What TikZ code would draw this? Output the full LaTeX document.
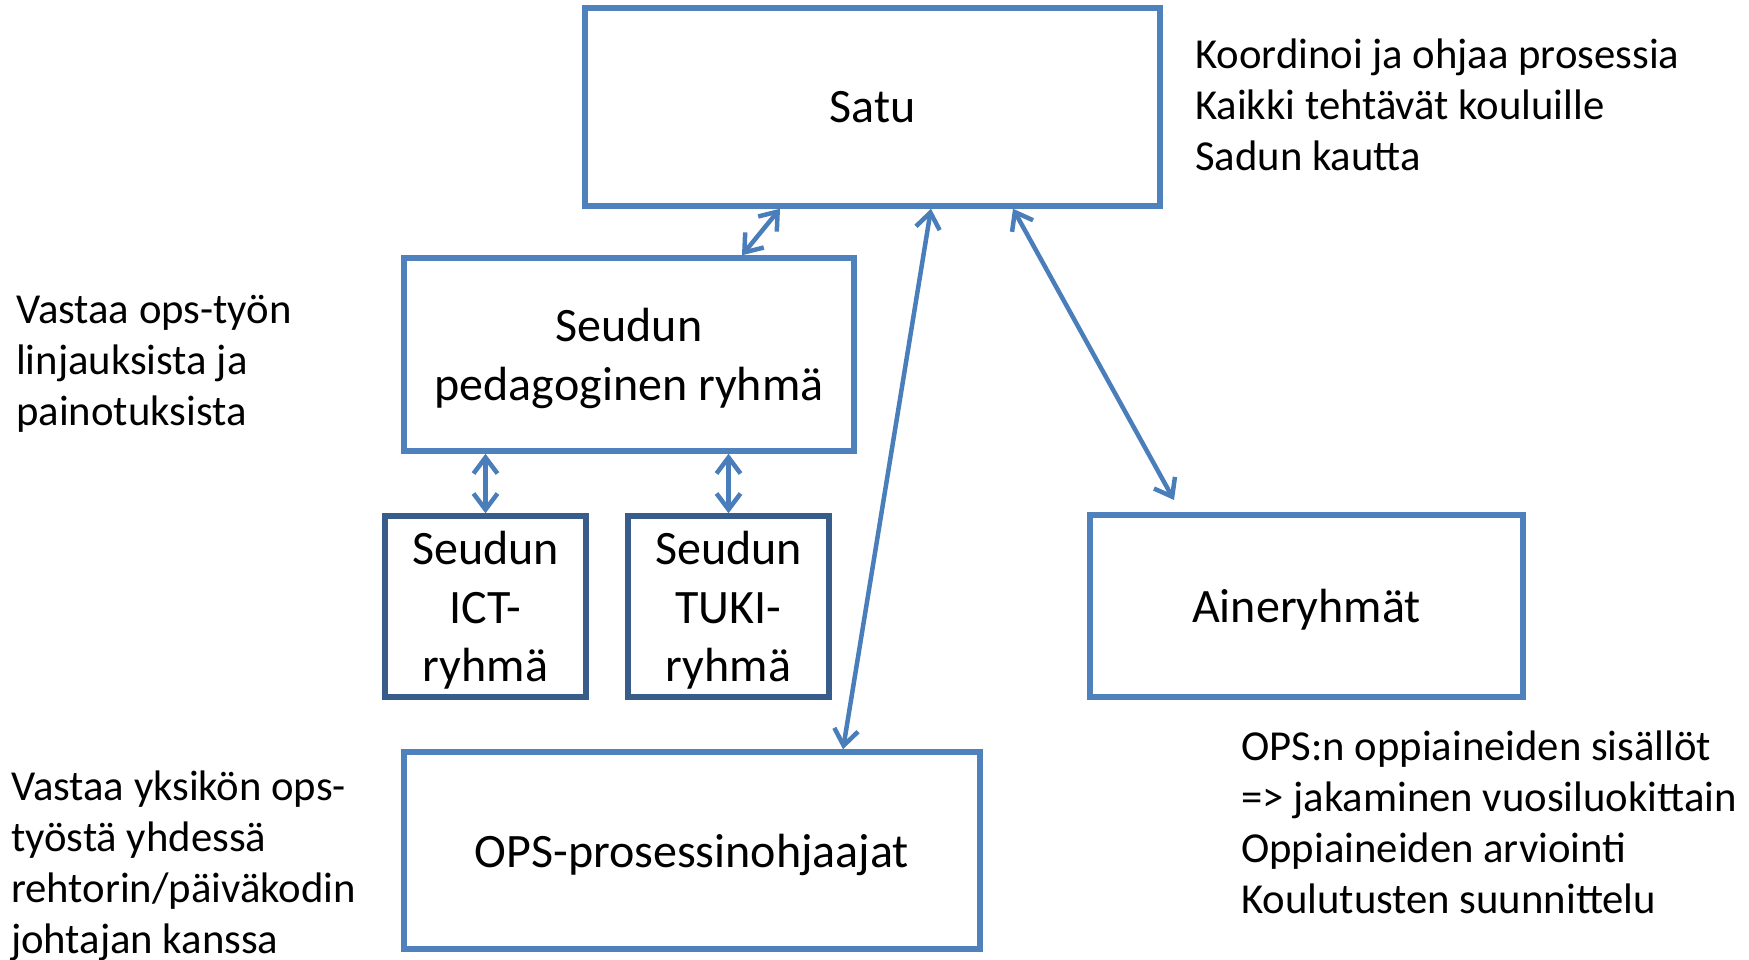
\documentclass[tikz,border=0pt]{standalone}
\usepackage{fontspec}
\setmainfont{Carlito}
\usetikzlibrary{arrows.meta}
\definecolor{boxblue}{HTML}{4F81BD}
\definecolor{darkblue}{HTML}{385D8A}
\definecolor{arrowblue}{HTML}{4A7EBB}
\tikzset{
  box/.style={draw=boxblue, line width=5.5pt, rectangle, inner sep=0pt, align=center,
    font=\fontsize{48}{58.5}\selectfont, text depth=0pt, fill=white},
  darkbox/.style={box, draw=darkblue},
  sidetext/.style={anchor=base west, align=left, inner sep=0pt,
    font=\fontsize{42.7}{51}\selectfont},
  link/.style={draw=arrowblue, line width=4.5pt, line cap=round, line join=round,
    {Straight Barb[length=16pt,width=24pt]}-{Straight Barb[length=16pt,width=24pt]}}
}
\begin{document}
\begin{tikzpicture}[x=1pt,y=-1pt]
\useasboundingbox (0,0) rectangle (1749,959);
\node[box, minimum width=575pt, minimum height=198pt] (satu) at (872.5,107) {Satu};
\node[box, minimum width=450pt, minimum height=193pt] (ped) at (629,354.5) {Seudun\\pedagoginen ryhmä};
\node[darkbox, minimum width=201pt, minimum height=181pt] (ict) at (485.5,606.5) {Seudun\\ICT-\\ryhmä};
\node[darkbox, minimum width=201pt, minimum height=181pt] (tuki) at (728.5,606.5) {Seudun\\TUKI-\\ryhmä};
\node[box, minimum width=433pt, minimum height=182pt] (aine) at (1306.5,606) {Aineryhmät};
\node[box, minimum width=576pt, minimum height=197pt] (ops) at (692,850.5) {OPS-prosessinohjaajat};
\coordinate (ainetip) at (1174,500);

\draw[link] ([xshift=-92.5pt]satu.south) -- ([xshift=113pt]ped.north);
\draw[link] (ped.south -| ict.north) -- (ict.north);
\draw[link] (ped.south -| tuki.north) -- (tuki.north);
\draw[link] ([xshift=58.5pt]satu.south) -- ([xshift=151pt]ops.north);
\draw[link] ([xshift=140.5pt]satu.south) -- (ainetip);

\node[sidetext] (t1) at (1195,170) {Koordinoi ja ohjaa prosessia\\Kaikki tehtävät kouluille\\Sadun kautta};
\node[sidetext] (t2) at (16,425) {Vastaa ops-työn\\linjauksista ja\\painotuksista};
\node[sidetext] (t3) at (11,953) {Vastaa yksikön ops-\\työstä yhdessä\\rehtorin/päiväkodin\\johtajan kanssa};
\node[sidetext] (t4) at (1241,913) {OPS:n oppiaineiden sisällöt\\=> jakaminen vuosiluokittain\\Oppiaineiden arviointi\\Koulutusten suunnittelu};
\end{tikzpicture}
\end{document}
